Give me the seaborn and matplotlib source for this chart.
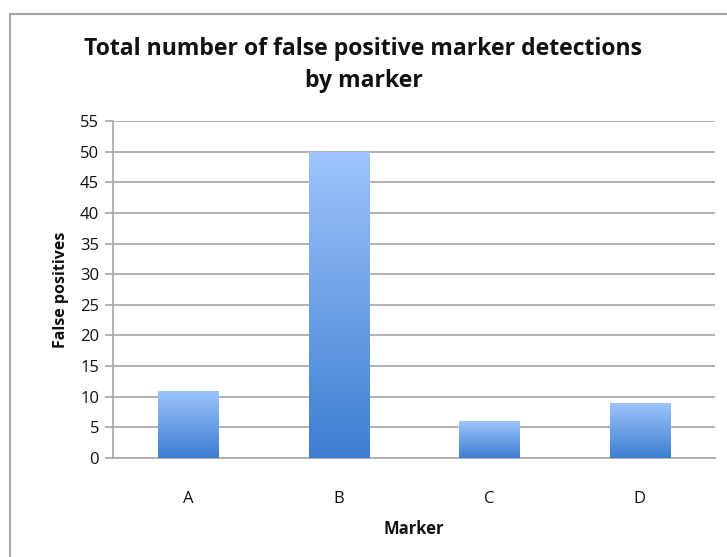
import numpy as np
import pandas as pd
import matplotlib.pyplot as plt
import seaborn as sns
from matplotlib.colors import LinearSegmentedColormap
from matplotlib.lines import Line2D

# chart data
markers = ['A', 'B', 'C', 'D']
false_positives = [11, 50, 6, 9]
y_ticks = list(range(0, 56, 5))

df = pd.DataFrame({'Marker': markers, 'False positives': false_positives})

sns.set_style('white')
plt.rcParams['font.family'] = ['Open Sans', 'DejaVu Sans']
plt.rcParams['text.color'] = '#111111'
plt.rcParams['axes.labelcolor'] = '#111111'
plt.rcParams['xtick.labelcolor'] = '#111111'
plt.rcParams['ytick.labelcolor'] = '#111111'

fig = plt.figure(figsize=(7.27, 5.57), dpi=100)
ax = fig.add_axes([0.1554, 0.1777, 0.828, 0.6051])

sns.barplot(data=df, x='Marker', y='False positives', color='#5b93e0',
            width=0.4, ax=ax, zorder=3)

# excel-style vertical gradient inside each bar
grad_cmap = LinearSegmentedColormap.from_list('bar_grad', ['#3d7dd1', '#9ec5fc'])
gradient = np.linspace(0, 1, 256).reshape(-1, 1)
for patch in ax.patches:
    x0, y0 = patch.get_x(), patch.get_y()
    w, h = patch.get_width(), patch.get_height()
    patch.set_facecolor('none')
    patch.set_edgecolor('none')
    im = ax.imshow(gradient, cmap=grad_cmap, origin='lower', aspect='auto',
                   extent=[x0, x0 + w, y0, y0 + h], zorder=3)
    im.set_clip_path(patch)

ax.set_xlim(-0.5, len(markers) - 0.5)
ax.set_ylim(0, 55)
ax.set_yticks(y_ticks)
ax.yaxis.grid(True, color='#a6a6a6', linewidth=1.2, zorder=0)
ax.set_axisbelow(True)

# category boundary ticks on x axis
ax.set_xticks(np.arange(len(markers) + 1) - 0.5, minor=True)
ax.tick_params(axis='x', which='major', length=0, pad=24, labelsize=12)
ax.tick_params(axis='x', which='minor', length=6, width=1.2, color='#a6a6a6', direction='out')
ax.tick_params(axis='y', length=6, width=1.2, color='#a6a6a6', direction='out',
               labelsize=12, pad=4, left=True)

for side in ['top', 'right']:
    ax.spines[side].set_visible(False)
for side in ['left', 'bottom']:
    ax.spines[side].set_color('#a6a6a6')
    ax.spines[side].set_linewidth(1.2)

ax.set_xlabel('Marker', fontsize=12, fontweight='bold', labelpad=9)
ax.set_ylabel('False positives', fontsize=11.5, fontweight='bold', labelpad=8)

fig.text(0.5, 1 - 65 / 557, 'Total number of false positive marker detections\nby marker',
         fontsize=16.6, fontweight='bold', ha='center', va='center', linespacing=1.42)

# chart frame (top and left edges visible)
fig.add_artist(Line2D([10 / 727, 10 / 727], [0, 1 - 14 / 557], transform=fig.transFigure,
                      color='#a6a6a6', linewidth=1.5))
fig.add_artist(Line2D([10 / 727, 1], [1 - 14 / 557, 1 - 14 / 557], transform=fig.transFigure,
                      color='#a6a6a6', linewidth=1.5))

fig.savefig('out.png', dpi=100)
